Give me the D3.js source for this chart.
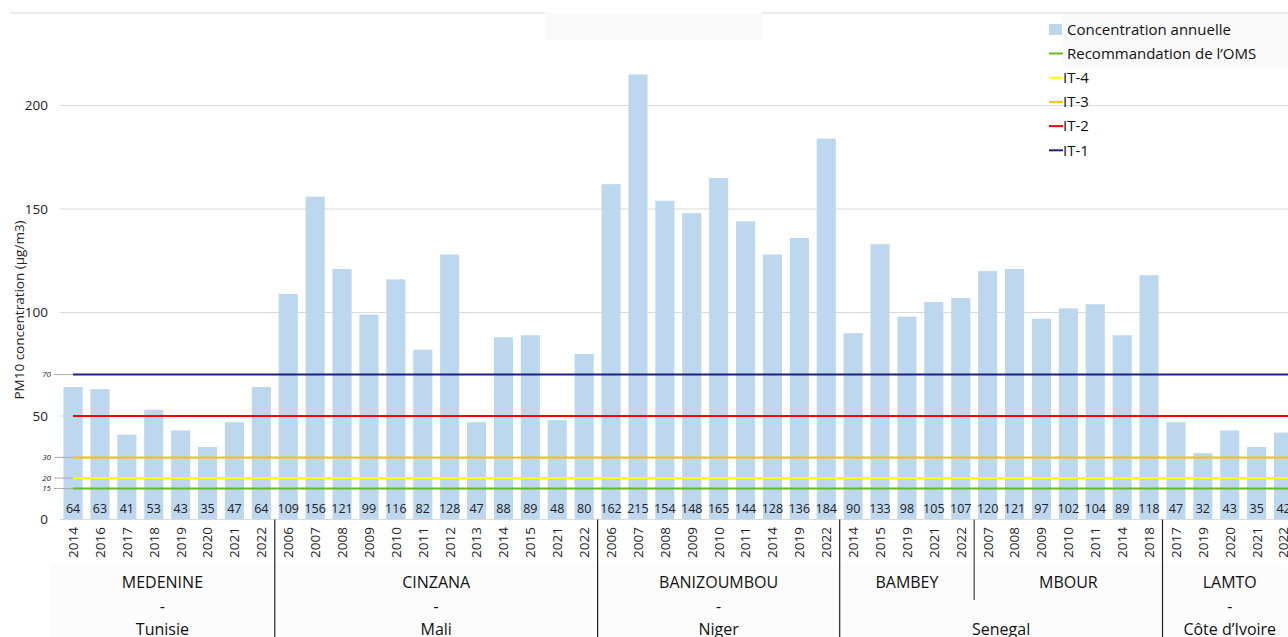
<!DOCTYPE html>
<html>
<head>
<meta charset="utf-8">
<script src="https://cdn.jsdelivr.net/npm/d3@7"></script>
<style>
  body { margin: 0; background: #fff; }
  svg { display: block; font-family: "Open Sans", sans-serif; }
</style>
</head>
<body>
<div id="chart"></div>
<script>
// sites, countries and their yearly PM10 values
var sites = ["MEDENINE", "CINZANA", "BANIZOUMBOU", "BAMBEY", "MBOUR", "LAMTO"];
var countries = ["Tunisie", "Mali", "Niger", "Senegal", "Senegal", "Côte d’Ivoire"];
var years = [
  ["2014", "2016", "2017", "2018", "2019", "2020", "2021", "2022"],
  ["2006", "2007", "2008", "2009", "2010", "2011", "2012", "2013", "2014", "2015", "2021", "2022"],
  ["2006", "2007", "2008", "2009", "2010", "2011", "2014", "2019", "2022"],
  ["2014", "2015", "2019", "2021", "2022"],
  ["2007", "2008", "2009", "2010", "2011", "2014", "2018"],
  ["2017", "2019", "2020", "2021", "2022"]
];
var values = [
  [64, 63, 41, 53, 43, 35, 47, 64],
  [109, 156, 121, 99, 116, 82, 128, 47, 88, 89, 48, 80],
  [162, 215, 154, 148, 165, 144, 128, 136, 184],
  [90, 133, 98, 105, 107],
  [120, 121, 97, 102, 104, 89, 118],
  [47, 32, 43, 35, 42]
];
var yTicks = [0, 50, 100, 150, 200];
var thresholds = [
  { name: "Recommandation de l’OMS", value: 15, color: "#66bb22" },
  { name: "IT-4", value: 20, color: "#ffff00" },
  { name: "IT-3", value: 30, color: "#ffc000" },
  { name: "IT-2", value: 50, color: "#ff0000" },
  { name: "IT-1", value: 70, color: "#1f1f8a" }
];
var barColor = "#bdd7ee";

// flatten into one row per bar
var data = [];
var groups = [];
sites.forEach(function(s, gi) {
  var start = data.length;
  years[gi].forEach(function(y, i) {
    data.push({ key: s + "-" + y, site: s, year: y, value: values[gi][i] });
  });
  groups.push({ site: s, country: countries[gi], start: start, end: data.length - 1 });
});

var svgWidth = 1288;
var svgHeight = 637;

var svg = d3.select("#chart")
  .append("svg")
  .attr("width", svgWidth)
  .attr("height", svgHeight);

var xScale = d3.scaleBand()
  .domain(data.map(d => d.key))
  .range([59.6, 59.6 + 46 * 26.9])
  .paddingInner(0.29)
  .paddingOuter(0.145);

var yScale = d3.scaleLinear()
  .domain([0, 250])
  .range([519.5, 2]);

var step = xScale.step();
function leftEdge(i) { return xScale.range()[0] + i * step; }

// faint background boxes (title area, legend, category area)
svg.append("rect").attr("x", 545).attr("y", 13).attr("width", 217).attr("height", 27).attr("fill", "#fafafa");
svg.append("rect").attr("x", 1063).attr("y", 13).attr("width", 225).attr("height", 55).attr("fill", "#fafafa");
svg.append("rect").attr("x", 50).attr("y", 563).attr("width", 1238).attr("height", 74).attr("fill", "#fcfcfc");

// top frame line
svg.append("line").attr("x1", 10).attr("x2", 545).attr("y1", 13).attr("y2", 13).attr("stroke", "#d9d9d9");
svg.append("line").attr("x1", 762).attr("x2", 1288).attr("y1", 13).attr("y2", 13).attr("stroke", "#d9d9d9");

// gridlines
svg.selectAll(".grid").data(yTicks.filter(t => t > 0)).enter()
  .append("line")
  .attr("x1", 60).attr("x2", svgWidth)
  .attr("y1", d => yScale(d)).attr("y2", d => yScale(d))
  .attr("stroke", "#d9d9d9");

// y tick labels
svg.selectAll(".ytick").data(yTicks).enter()
  .append("text")
  .attr("x", 48)
  .attr("y", d => yScale(d))
  .attr("dy", "0.35em")
  .attr("text-anchor", "end")
  .attr("font-size", 13.5)
  .attr("fill", "#222")
  .text(d => d);

// y axis title
svg.append("text")
  .attr("transform", "translate(24, 310) rotate(-90)")
  .attr("text-anchor", "middle")
  .attr("font-size", 13.5)
  .attr("fill", "#222")
  .text("PM10 concentration (µg/m3)");

// bars
svg.selectAll(".bar").data(data).enter()
  .append("rect")
  .attr("x", d => xScale(d.key))
  .attr("width", xScale.bandwidth())
  .attr("y", d => yScale(d.value))
  .attr("height", d => yScale(0) - yScale(d.value))
  .attr("fill", barColor);

// threshold lines, starting at the first bar centre
var lineStart = xScale(data[0].key) + xScale.bandwidth() / 2;
svg.selectAll(".thr").data(thresholds).enter()
  .append("line")
  .attr("x1", lineStart).attr("x2", svgWidth)
  .attr("y1", d => yScale(d.value)).attr("y2", d => yScale(d.value))
  .attr("stroke", d => d.color)
  .attr("stroke-width", 2);

// small threshold labels with leader lines
var smallThr = thresholds.filter(d => d.value != 50);
svg.selectAll(".leader").data(smallThr).enter()
  .append("line")
  .attr("x1", 54).attr("x2", lineStart)
  .attr("y1", d => yScale(d.value)).attr("y2", d => yScale(d.value))
  .attr("stroke", "#aaa");
svg.selectAll(".thrlab").data(smallThr).enter()
  .append("text")
  .attr("x", 51)
  .attr("y", d => yScale(d.value))
  .attr("dy", "0.35em")
  .attr("text-anchor", "end")
  .attr("font-size", 8)
  .attr("font-style", "italic")
  .attr("fill", "#222")
  .text(d => d.value);

// value labels inside bars
svg.selectAll(".val").data(data).enter()
  .append("text")
  .attr("x", d => xScale(d.key) + xScale.bandwidth() / 2)
  .attr("y", 509)
  .attr("dy", "0.35em")
  .attr("text-anchor", "middle")
  .attr("font-size", 12.5)
  .attr("fill", "#222")
  .text(d => d.value);

// baseline
svg.append("line")
  .attr("x1", 60).attr("x2", svgWidth)
  .attr("y1", yScale(0)).attr("y2", yScale(0))
  .attr("stroke", "#d9d9d9");

// year labels
svg.selectAll(".year").data(data).enter()
  .append("text")
  .attr("transform", d => "translate(" + (xScale(d.key) + xScale.bandwidth() / 2) + ",527) rotate(-90)")
  .attr("dy", "0.36em")
  .attr("text-anchor", "end")
  .attr("font-size", 13.5)
  .attr("fill", "#222")
  .text(d => d.year);

// group separators
groups.forEach(function(g, gi) {
  if (gi == 0) return;
  var x = leftEdge(g.start);
  var sameCountry = countries[gi] == countries[gi - 1];
  svg.append("line")
    .attr("x1", x).attr("x2", x)
    .attr("y1", yScale(0)).attr("y2", sameCountry ? 600 : svgHeight)
    .attr("stroke", sameCountry ? "#666" : "#222")
    .attr("stroke-width", sameCountry ? 1.5 : 1.2);
});

// site labels
groups.forEach(function(g, gi) {
  var x0 = gi == 0 ? 50 : leftEdge(g.start);
  var x1 = leftEdge(g.end + 1);
  var cx = (x0 + x1) / 2;
  svg.append("text")
    .attr("x", cx).attr("y", 582).attr("dy", "0.35em")
    .attr("text-anchor", "middle").attr("font-size", 16).attr("fill", "#111")
    .text(g.site);
  if (countries[gi] == countries[gi + 1] || countries[gi] == countries[gi - 1]) return;
  svg.append("text")
    .attr("x", cx).attr("y", 606).attr("dy", "0.35em")
    .attr("text-anchor", "middle").attr("font-size", 16).attr("fill", "#111")
    .text("-");
  svg.append("text")
    .attr("x", cx).attr("y", 629).attr("dy", "0.35em")
    .attr("text-anchor", "middle").attr("font-size", 16).attr("fill", "#111")
    .text(g.country);
});

// shared country label (Senegal)
var senStart = groups.find(g => g.site == "BAMBEY").start;
var senEnd = groups.find(g => g.site == "MBOUR").end;
svg.append("text")
  .attr("x", (leftEdge(senStart) + leftEdge(senEnd + 1)) / 2)
  .attr("y", 629).attr("dy", "0.35em")
  .attr("text-anchor", "middle").attr("font-size", 16).attr("fill", "#111")
  .text("Senegal");

// legend
var legend = svg.append("g").attr("transform", "translate(1049, 30)");
legend.append("rect").attr("x", 0).attr("y", -6).attr("width", 13).attr("height", 11).attr("fill", barColor);
legend.append("text").attr("x", 18).attr("y", 0).attr("dy", "0.35em")
  .attr("font-size", 15).attr("fill", "#111").text("Concentration annuelle");

var legendRows = legend.selectAll(".lrow").data(thresholds).enter()
  .append("g")
  .attr("transform", (d, i) => "translate(0," + (23.5 + i * 24.2) + ")");
legendRows.append("line")
  .attr("x1", 0).attr("x2", 14).attr("y1", 0).attr("y2", 0)
  .attr("stroke", d => d.color).attr("stroke-width", 2);
legendRows.append("text")
  .attr("x", (d, i) => i == 0 ? 18 : 14)
  .attr("y", 0).attr("dy", "0.35em")
  .attr("font-size", 15).attr("fill", "#111")
  .text(d => d.name);
</script>
</body>
</html>
